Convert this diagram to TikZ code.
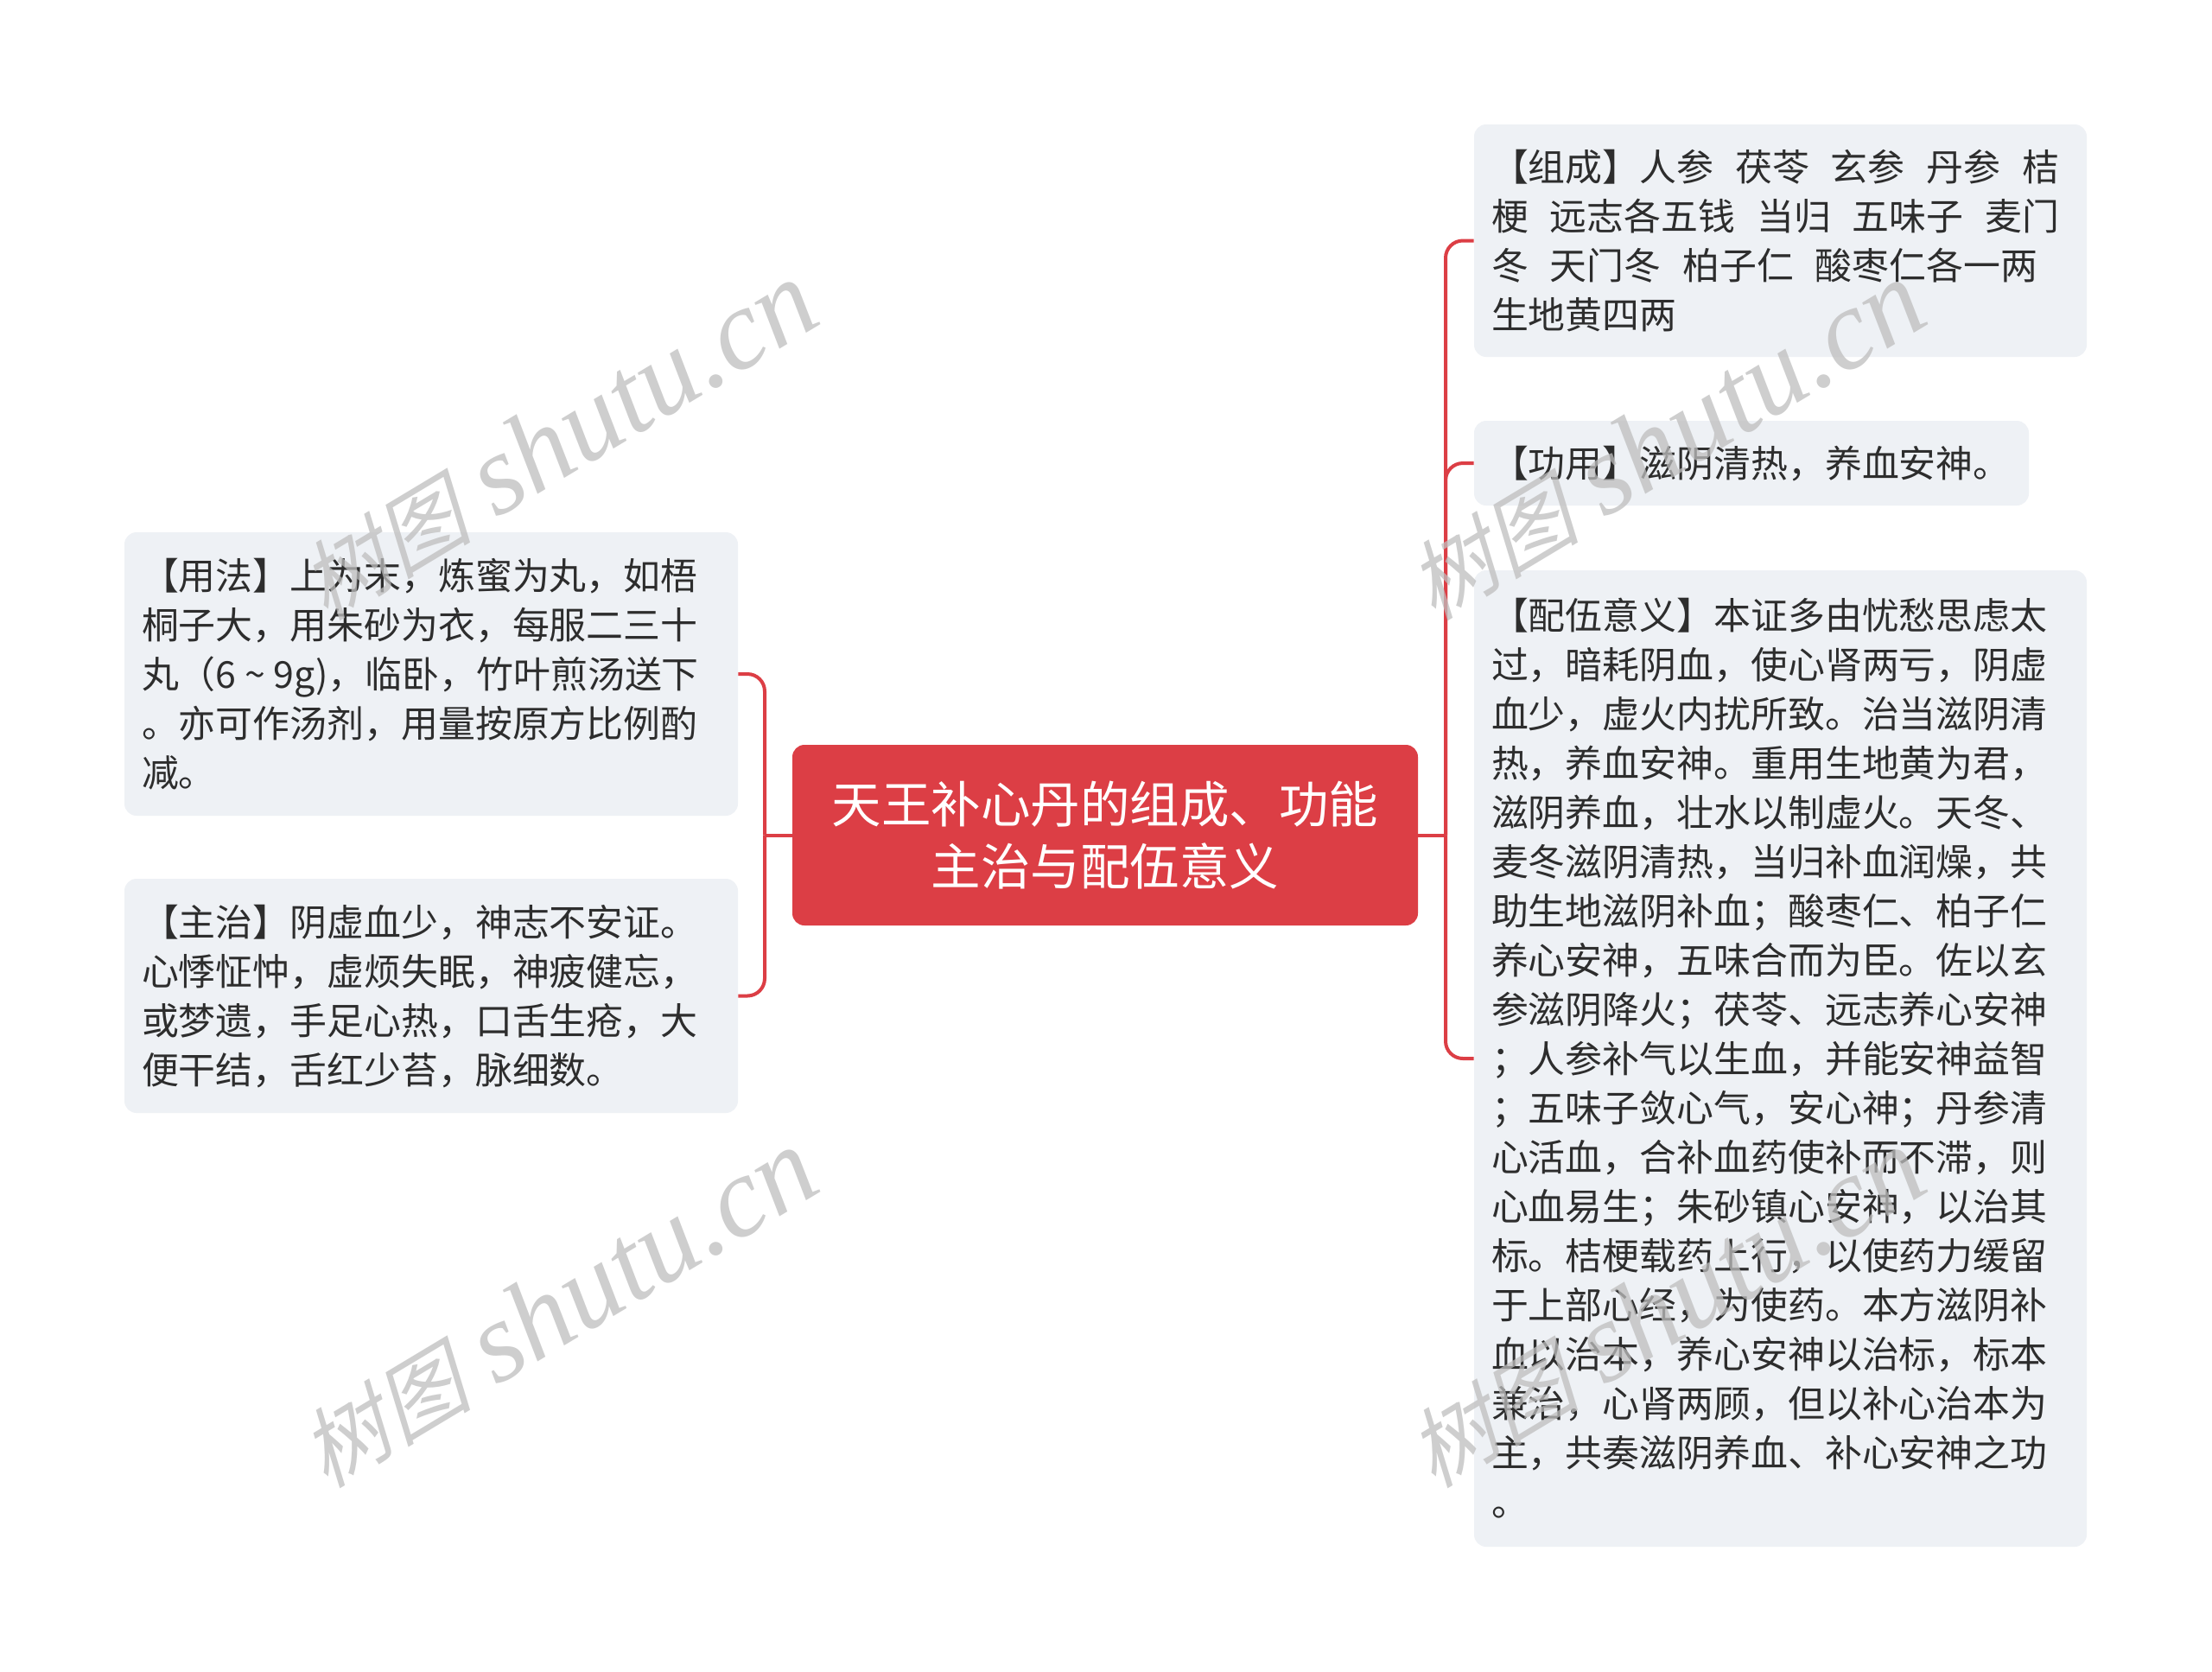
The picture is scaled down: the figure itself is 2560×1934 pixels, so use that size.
\documentclass[tikz,border=0pt]{standalone}
\usepackage{fontspec}
\setmainfont{Noto Sans CJK SC}
\newfontfamily\wmcjk{Noto Sans CJK SC}[FakeSlant=0.25]
\newfontfamily\wmlat{Liberation Serif}
\definecolor{mred}{RGB}{220,62,69}
\definecolor{boxfill}{RGB}{238,241,245}
\definecolor{txt}{RGB}{45,45,45}
\definecolor{wmgray}{RGB}{190,190,190}
\newcommand{\ls}{\rule[-6.15pt]{0pt}{28.5pt}}
\newcommand{\rs}{\rule[-7.1pt]{0pt}{36pt}}
\newcommand{\gap}{\hspace{0.58em}}
\tikzset{
  leaf/.style={fill=boxfill, rounded corners=7pt, inner sep=0pt, draw=none},
  leaftext/.style={anchor=west, inner sep=0pt, align=left, text=txt,
    font=\fontsize{21.45pt}{28.5pt}\selectfont},
  rootnode/.style={fill=mred, rounded corners=7pt, text=white, align=center,
    inner sep=0pt, minimum width=362pt, minimum height=104.5pt,
    font=\fontsize{28.75pt}{36pt}\selectfont},
  conn/.style={draw=mred, line width=2pt},
  wm/.style={text=wmgray, opacity=0.75, inner sep=0pt, rotate=31}
}
\begin{document}
\begin{tikzpicture}[x=0.5pt,y=-0.5pt]
\useasboundingbox (0,0) rectangle (2560,1934);
\fill[white] (0,0) rectangle (2560,1934);

% root
\node[rootnode] (root) at (1279,966.5) {\rs 天王补心丹的组成、功能\\\rs 主治与配伍意义};

% right boxes
\node[leaf, minimum width=354.5pt, minimum height=134.5pt] (zc) at (2060.5,278.5) {};
\node[leaftext] (zct) at ([xshift=10pt]zc.west) {%
\ls 【组成】人参\gap 茯苓\gap 玄参\gap 丹参\gap 桔\\
\ls 梗\gap 远志各五钱\gap 当归\gap 五味子\gap 麦门\\
\ls 冬\gap 天门冬\gap 柏子仁\gap 酸枣仁各一两\\
\ls 生地黄四两};

\node[leaf, minimum width=321pt, minimum height=49pt] (gy) at (2027,536) {};
\node[leaftext] (gyt) at ([xshift=10pt]gy.west) {\ls 【功用】滋阴清热，养血安神。};

\node[leaf, minimum width=354.5pt, minimum height=565pt] (pw) at (2060.5,1225) {};
\node[leaftext] (pwt) at ([xshift=10pt]pw.west) {%
\ls 【配伍意义】本证多由忧愁思虑太\\
\ls 过，暗耗阴血，使心肾两亏，阴虚\\
\ls 血少，虚火内扰所致。治当滋阴清\\
\ls 热，养血安神。重用生地黄为君，\\
\ls 滋阴养血，壮水以制虚火。天冬、\\
\ls 麦冬滋阴清热，当归补血润燥，共\\
\ls 助生地滋阴补血；酸枣仁、柏子仁\\
\ls 养心安神，五味合而为臣。佐以玄\\
\ls 参滋阴降火；茯苓、远志养心安神\\
\ls ；人参补气以生血，并能安神益智\\
\ls ；五味子敛心气，安心神；丹参清\\
\ls 心活血，合补血药使补而不滞，则\\
\ls 心血易生；朱砂镇心安神，以治其\\
\ls 标。桔梗载药上行，以使药力缓留\\
\ls 于上部心经，为使药。本方滋阴补\\
\ls 血以治本，养心安神以治标，标本\\
\ls 兼治，心肾两顾，但以补心治本为\\
\ls 主，共奏滋阴养血、补心安神之功\\
\ls 。};

% left boxes
\node[leaf, minimum width=355pt, minimum height=164pt] (yf) at (499,780) {};
\node[leaftext] (yft) at ([xshift=10pt]yf.west) {%
\ls 【用法】上为末，炼蜜为丸，如梧\\
\ls 桐子大，用朱砂为衣，每服二三十\\
\ls 丸（6 \char`\~{} 9g)，临卧，竹叶煎汤送下\\
\ls 。亦可作汤剂，用量按原方比例酌\\
\ls 减。};

\node[leaf, minimum width=355pt, minimum height=135.5pt] (zz) at (499,1152.5) {};
\node[leaftext] (zzt) at ([xshift=10pt]zz.west) {%
\ls 【主治】阴虚血少，神志不安证。\\
\ls 心悸怔忡，虚烦失眠，神疲健忘，\\
\ls 或梦遗，手足心热，口舌生疮，大\\
\ls 便干结，舌红少苔，脉细数。};

% connectors
\coordinate (jr) at (1673,966.5);
\coordinate (jl) at (885,966.5);
\draw[conn] (root.east) -- (jr);
\draw[conn] (root.west) -- (jl);
\draw[conn, rounded corners=10pt] (jr) |- (zc.west);
\draw[conn, rounded corners=10pt] (jr) |- (gy.west);
\draw[conn, rounded corners=10pt] (jr) |- (pw.west);
\draw[conn, rounded corners=10pt] (jl) |- (yf.east);
\draw[conn, rounded corners=10pt] (jl) |- (zz.east);

% watermarks
\node[wm] (wm1) at (645,510) {\fontsize{50pt}{60pt}\wmcjk 树图\hspace{0.3em}\fontsize{66pt}{70pt}\wmlat\itshape shutu.cn};
\node[wm] (wm2) at (645,1514) {\fontsize{50pt}{60pt}\wmcjk 树图\hspace{0.3em}\fontsize{66pt}{70pt}\wmlat\itshape shutu.cn};
\node[wm] (wm3) at (1927,510) {\fontsize{50pt}{60pt}\wmcjk 树图\hspace{0.3em}\fontsize{66pt}{70pt}\wmlat\itshape shutu.cn};
\node[wm] (wm4) at (1927,1514) {\fontsize{50pt}{60pt}\wmcjk 树图\hspace{0.3em}\fontsize{66pt}{70pt}\wmlat\itshape shutu.cn};
\end{tikzpicture}
\end{document}
